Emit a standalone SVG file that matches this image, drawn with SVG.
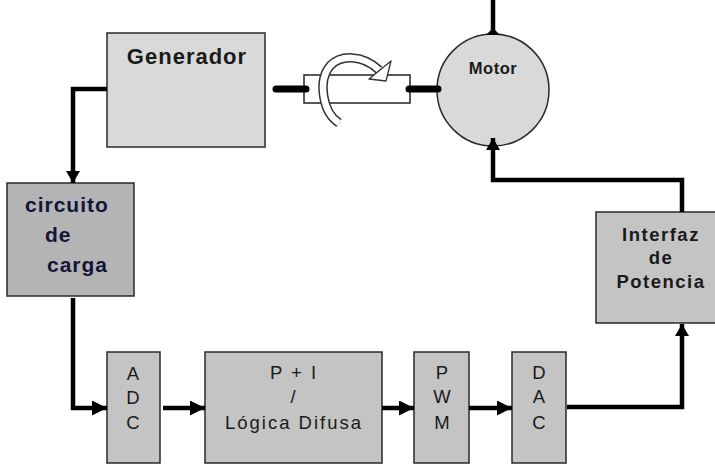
<svg xmlns="http://www.w3.org/2000/svg" width="715" height="464" viewBox="0 0 715 464">
<style>
.box{stroke:#2a2a2a;stroke-width:1.5}
.light{fill:#d9d9d9}
.mid{fill:#c4c4c4}
.dark{fill:#b4b4b4}
.lbl{font-family:"Liberation Sans",Arial,sans-serif;fill:#1a1a1a;text-anchor:middle}
.reg{font-size:18.5px;letter-spacing:2px}
.bold{font-weight:bold}
.con{fill:none;stroke:#000;stroke-width:4.5}
.shaft{stroke:#000;stroke-width:7;stroke-linecap:round}
.band{fill:none}
</style>
<defs>
<marker id="ah" markerUnits="userSpaceOnUse" markerWidth="15" markerHeight="15" viewBox="0 0 15 15" refX="15" refY="7.5" orient="auto">
<path d="M0,0 L15,7.5 L0,15 z" fill="#000"/>
</marker>
<marker id="ahs" markerUnits="userSpaceOnUse" markerWidth="12" markerHeight="14" viewBox="0 0 12 14" refX="12" refY="7" orient="auto">
<path d="M0,0 L12,7 L0,14 z" fill="#000"/>
</marker>
</defs>
<rect width="715" height="464" fill="#fff"/>

<g id="generador">
<rect class="box light" x="107" y="33" width="158" height="114"/>
<text class="lbl bold" x="187" y="64" font-size="22" letter-spacing="1">Generador</text>
</g>

<g id="motor">
<circle class="box light" cx="493" cy="90" r="56" stroke="#333"/>
<text class="lbl bold" x="493" y="74" font-size="16.5" letter-spacing="0.5">Motor</text>
</g>

<g id="acople">
<rect x="304" y="75" width="106" height="28" fill="#fff" stroke="#222" stroke-width="1.5"/>
<path class="band" d="M339,123 C322,112 318,80 330,66 C340,55 362,54 379,70" stroke="#333" stroke-width="9.5"/>
<path class="band" d="M339,123 C322,112 318,80 330,66 C340,55 362,54 379,70" stroke="#fff" stroke-width="6.5"/>
<polygon points="369,79 391,61 386,81" fill="#fff" stroke="#333" stroke-width="1.3" stroke-linejoin="round"/>
<line class="shaft" x1="276" y1="89" x2="306" y2="89"/>
<line class="shaft" x1="409" y1="89" x2="438" y2="89"/>
</g>

<g id="circuito">
<rect class="box dark" x="7" y="183" width="127" height="113"/>
<text font-family="'Liberation Sans',Arial,sans-serif" font-weight="bold" font-size="21" letter-spacing="1" fill="#14143a">
<tspan x="25" y="212">circuito</tspan>
<tspan x="45" y="242">de</tspan>
<tspan x="47" y="272">carga</tspan>
</text>
</g>

<g id="adc">
<rect class="box mid" x="107" y="352" width="53" height="111"/>
<text class="lbl reg" x="134" y="380">A</text>
<text class="lbl reg" x="134" y="404">D</text>
<text class="lbl reg" x="134" y="429">C</text>
</g>

<g id="control">
<rect class="box mid" x="205" y="352" width="177" height="111"/>
<text class="lbl reg" x="294" y="379">P + I</text>
<text class="lbl reg" x="294" y="403">/</text>
<text class="lbl reg" x="294" y="429">Lógica Difusa</text>
</g>

<g id="pwm">
<rect class="box mid" x="414" y="352" width="55" height="111"/>
<text class="lbl reg" x="443" y="379">P</text>
<text class="lbl reg" x="443" y="403">W</text>
<text class="lbl reg" x="443" y="429">M</text>
</g>

<g id="dac">
<rect class="box mid" x="512" y="352" width="54" height="111"/>
<text class="lbl reg" x="540" y="379">D</text>
<text class="lbl reg" x="540" y="403">A</text>
<text class="lbl reg" x="540" y="429">C</text>
</g>

<g id="interfaz">
<rect class="box mid" x="596" y="212" width="125" height="111"/>
<text class="lbl bold" x="661" y="241" font-size="18.5" letter-spacing="1.5" fill="#2a2a2a">Interfaz</text>
<text class="lbl bold" x="661" y="264" font-size="18.5" letter-spacing="1.5" fill="#2a2a2a">de</text>
<text class="lbl bold" x="661" y="288" font-size="18.5" letter-spacing="1.5" fill="#2a2a2a">Potencia</text>
</g>

<g id="conectores">
<path class="con" d="M107,89 H73 V183" stroke-width="3.5" marker-end="url(#ahs)"/>
<path class="con" d="M73,298 V408 H107" marker-end="url(#ah)"/>
<path class="con" d="M163,408 H205" marker-end="url(#ah)"/>
<path class="con" d="M382,408 H414" marker-end="url(#ah)"/>
<path class="con" d="M469,408 H512" marker-end="url(#ah)"/>
<path class="con" d="M567,407 H682 V324" marker-end="url(#ahs)"/>
<path class="con" d="M682,212 V180 H493 V138" stroke-width="3.5" marker-end="url(#ahs)"/>
<line x1="493" y1="0" x2="493" y2="32" stroke="#000" stroke-width="4.5"/>
<polygon points="486,35 500,35 493,28" fill="#000"/>
</g>
</svg>
